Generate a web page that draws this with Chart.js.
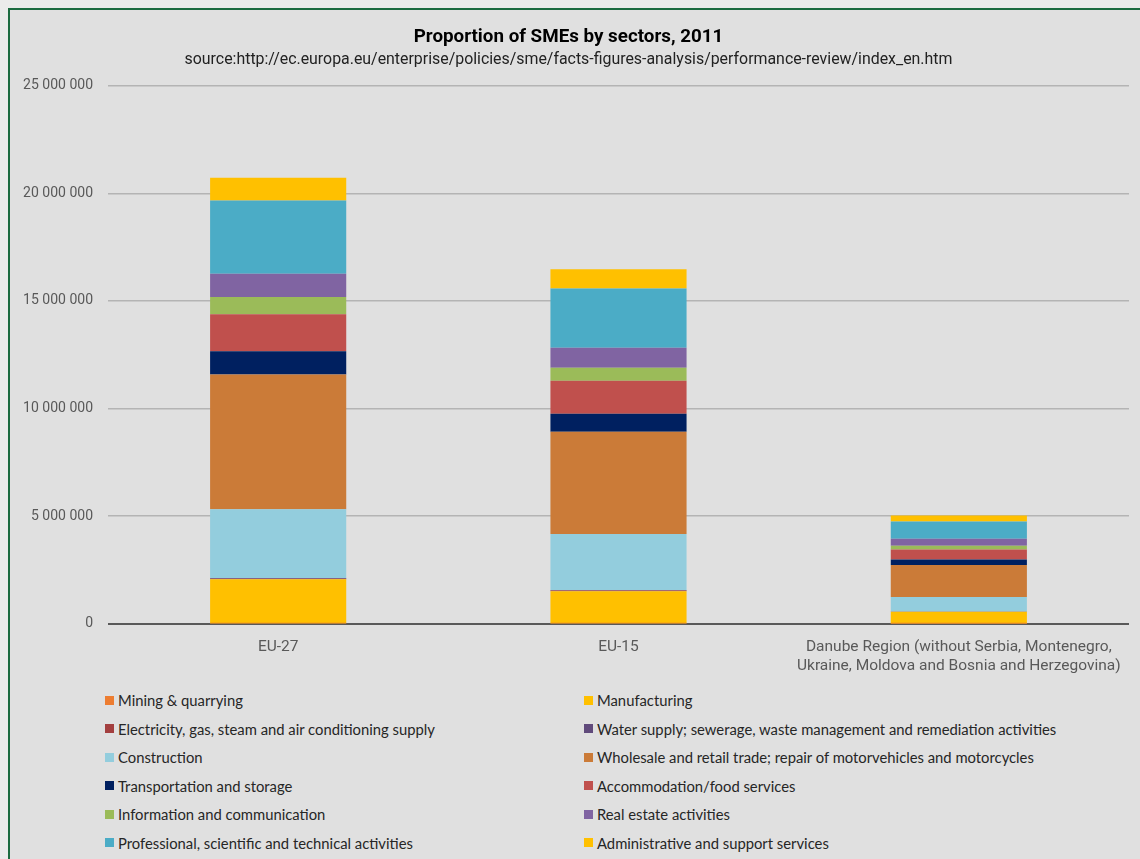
<!DOCTYPE html>
<html>
<head>
<meta charset="utf-8">
<script src="https://cdn.jsdelivr.net/npm/chart.js@4"></script>
<style>
    body { margin: 0; background: #ebebeb; width: 1140px; height: 859px; overflow: hidden; position: relative; }
    #frame { position: absolute; left: 8px; top: 8px; width: 1160px; height: 880px; border: 2px solid #1c6b40; background: #e0e0e0; }
    #wrap { position: absolute; left: 0; top: 0; width: 1140px; height: 686px; }
    #legend { position: absolute; left: 105px; top: 686px; display: grid; grid-template-columns: 479px auto; grid-auto-rows: 28.5px;
              font-family: Lato, sans-serif; font-size: 14.8px; color: #262626; }
    #legend div { display: flex; align-items: center; white-space: nowrap; }
    #legend span { display: inline-block; width: 9px; height: 9px; margin-right: 4px; }
</style>
</head>
<body>
<div id="frame"></div>
<div id="wrap"><canvas id="smeChart"></canvas></div>
<div id="legend"></div>
<script>
// Categories
const regions = ['EU-27', 'EU-15', ['Danube Region (without Serbia, Montenegro,', 'Ukraine, Moldova and Bosnia and Herzegovina)']];

// Sector values (number of SMEs), order: EU-27, EU-15, Danube
const mining        = [20000, 15000, 8000];
const manufacturing = [2050000, 1500000, 550000];
const electricity   = [30000, 30000, 10000];
const water         = [30000, 30000, 10000];
const construction  = [3200000, 2600000, 670000];
const wholesale     = [6250000, 4750000, 1490000];
const transport     = [1080000, 840000, 250000];
const accommodation = [1720000, 1530000, 470000];
const information   = [810000, 600000, 170000];
const realEstate    = [1080000, 930000, 330000];
const professional  = [3400000, 2750000, 800000];
const administrative = [1050000, 900000, 280000];

const yTicks = [0, 5000000, 10000000, 15000000, 20000000, 25000000];

document.addEventListener('DOMContentLoaded', function() {
    const sectors = [
        ['Mining & quarrying', mining, '#ED7D31'],
        ['Manufacturing', manufacturing, '#FFC000'],
        ['Electricity, gas, steam and air conditioning supply', electricity, '#A33F3F'],
        ['Water supply; sewerage, waste management and remediation activities', water, '#604A7B'],
        ['Construction', construction, '#93CDDD'],
        ['Wholesale and retail trade; repair of motorvehicles and motorcycles', wholesale, '#CB7B38'],
        ['Transportation and storage', transport, '#002060'],
        ['Accommodation/food services', accommodation, '#C0504D'],
        ['Information and communication', information, '#9BBB59'],
        ['Real estate activities', realEstate, '#8064A2'],
        ['Professional, scientific and technical activities', professional, '#4BACC6'],
        ['Administrative and support services', administrative, '#FFC000']
    ];

    const fmt = v => String(v).replace(/\B(?=(\d{3})+(?!\d))/g, ' ');

    const ctx = document.getElementById('smeChart').getContext('2d');
    const chart = new Chart(ctx, {
        type: 'bar',
        data: {
            labels: regions,
            datasets: sectors.map(s => ({
                label: s[0],
                data: s[1],
                backgroundColor: s[2],
                borderWidth: 0,
                categoryPercentage: 1,
                barPercentage: 0.4
            }))
        },
        options: {
            responsive: true,
            maintainAspectRatio: false,
            animation: false,
            layout: { padding: { top: 28, left: 8, right: 11, bottom: 4 } },
            scales: {
                x: {
                    stacked: true,
                    grid: { display: false },
                    border: { display: false },
                    ticks: { color: '#595959', padding: 6, font: { family: 'Roboto', size: 15.5, lineHeight: 1.23 } }
                },
                y: {
                    stacked: true,
                    min: 0,
                    max: 25000000,
                    afterBuildTicks: scale => { scale.ticks = yTicks.map(v => ({ value: v })); },
                    afterFit: scale => { scale.width = 100; },
                    grid: {
                        drawTicks: false,
                        color: c => c.tick && c.tick.value === 0 ? '#595959' : '#b4b4b4',
                        lineWidth: c => c.tick && c.tick.value === 0 ? 2 : 1.5
                    },
                    border: { display: false },
                    ticks: { color: '#595959', padding: 15, font: { family: 'Roboto', size: 14 }, callback: v => fmt(v) }
                }
            },
            plugins: {
                legend: { display: false },
                tooltip: { enabled: false },
                title: {
                    display: true,
                    text: 'Proportion of SMEs by sectors, 2011',
                    color: '#000',
                    font: { family: 'Roboto', size: 18.8, weight: 'bold', lineHeight: 1 },
                    padding: { top: 0, bottom: 5 }
                },
                subtitle: {
                    display: true,
                    text: 'source:http://ec.europa.eu/enterprise/policies/sme/facts-figures-analysis/performance-review/index_en.htm',
                    color: '#222',
                    font: { family: 'Roboto', size: 15.9, lineHeight: 1 },
                    padding: { top: 0, bottom: 18 }
                }
            }
        }
    });

    // HTML legend in two columns, same order as the datasets
    const legend = document.getElementById('legend');
    chart.data.datasets.forEach(ds => {
        const item = document.createElement('div');
        const box = document.createElement('span');
        box.style.background = ds.backgroundColor;
        item.appendChild(box);
        item.appendChild(document.createTextNode(ds.label));
        legend.appendChild(item);
    });
});
</script>
</body>
</html>
